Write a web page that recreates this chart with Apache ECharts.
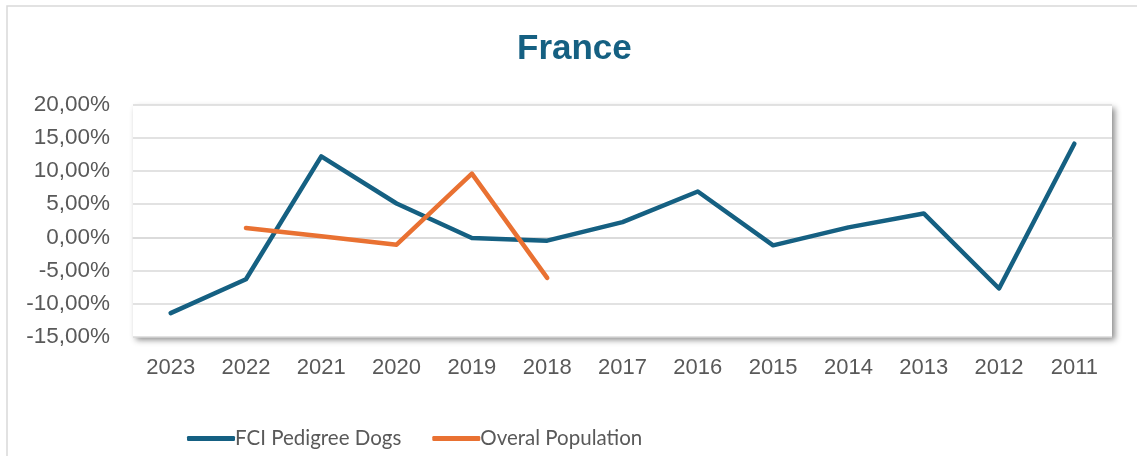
<!DOCTYPE html>
<html>
<head>
<meta charset="utf-8">
<title>France</title>
<script src="https://cdn.jsdelivr.net/npm/echarts@6/dist/echarts.min.js"></script>
<style>
  html, body { margin: 0; padding: 0; background: #fff; }
  #chart { width: 1137px; height: 456px; }
</style>
</head>
<body>
<div id="chart"></div>
<script>
// years as shown on the axis (newest first)
var years = ['2023', '2022', '2021', '2020', '2019', '2018', '2017', '2016', '2015', '2014', '2013', '2012', '2011'];
// yearly change, in %
var fciDogs = [-11.4, -6.3, 12.2, 5.1, -0.1, -0.5, 2.3, 6.9, -1.2, 1.5, 3.6, -7.7, 14.1];
var overall = [null, 1.4, 0.15, -1.1, 9.6, -6.1, null, null, null, null, null, null, null];
var seriesNames = ['FCI Pedigree Dogs', 'Overal Population'];

var chart = echarts.init(document.getElementById('chart'));

function pct(v) {
  return v.toFixed(2).replace('.', ',') + '%';
}

chart.setOption({
  animation: false,
  backgroundColor: '#fff',
  graphic: [{
    type: 'rect',
    shape: { x: 7, y: 6, width: 1200, height: 520 },
    style: { fill: 'none', stroke: '#d9d9d9', lineWidth: 1.5 },
    silent: true
  }],
  title: {
    text: 'France',
    left: 512,
    top: 27,
    textStyle: {
      fontFamily: 'Liberation Sans',
      fontWeight: 'bold',
      fontSize: 35,
      color: '#156082'
    }
  },
  legend: {
    data: seriesNames,
    left: 182,
    top: 423,
    itemWidth: 48,
    itemHeight: 5,
    itemGap: 31,
    icon: 'roundRect',
    textStyle: {
      fontFamily: 'Lato',
      fontSize: 20.5,
      color: '#595959',
      padding: [0, 0, 0, -5]
    }
  },
  grid: {
    left: 133,
    right: 25,
    top: 104.5,
    bottom: 119,
    show: true,
    backgroundColor: '#fff',
    borderWidth: 0,
    shadowBlur: 6,
    shadowColor: 'rgba(0,0,0,0.45)',
    shadowOffsetX: 3,
    shadowOffsetY: 3
  },
  xAxis: {
    type: 'category',
    data: years,
    boundaryGap: true,
    axisLine: { show: true, lineStyle: { color: '#d9d9d9', width: 1.5 } },
    axisTick: { show: false },
    axisLabel: {
      margin: 20,
      fontFamily: 'Liberation Sans',
      fontSize: 22,
      color: '#595959'
    }
  },
  yAxis: {
    type: 'value',
    min: -15,
    max: 20,
    interval: 5,
    axisLine: { show: false },
    axisTick: { show: false },
    splitLine: { lineStyle: { color: '#d9d9d9', width: 1.5 } },
    axisLabel: {
      margin: 23,
      fontFamily: 'Liberation Sans',
      fontSize: 22.5,
      color: '#595959',
      formatter: pct
    }
  },
  series: [
    {
      name: seriesNames[0],
      type: 'line',
      data: fciDogs,
      color: '#156082',
      showSymbol: false,
      symbol: 'none',
      lineStyle: { width: 4.5, cap: 'round', join: 'round' }
    },
    {
      name: seriesNames[1],
      type: 'line',
      data: overall,
      color: '#E97132',
      showSymbol: false,
      symbol: 'none',
      lineStyle: { width: 4.5, cap: 'round', join: 'round' }
    }
  ]
});
</script>
</body>
</html>
